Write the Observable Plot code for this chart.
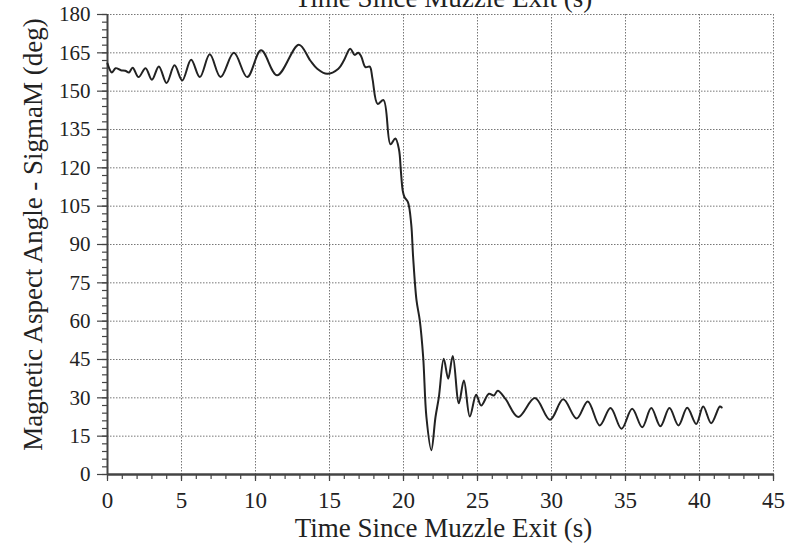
<!DOCTYPE html>
<html><head><meta charset="utf-8">
<script src="https://cdn.jsdelivr.net/npm/d3@7"></script>
<script src="https://cdn.jsdelivr.net/npm/@observablehq/plot@0.6"></script>
<style>body{margin:0;background:#fff;} svg{display:block}</style>
</head><body><div id="chart"></div>
<script>
const time = [0.0,0.3,0.55,0.9,1.2,1.45,1.7,2.1,2.57,3.0,3.47,3.99,4.53,5.05,5.65,6.24,6.91,7.64,8.54,9.44,10.38,11.46,12.93,13.7,14.17,14.84,15.6,15.97,16.4,16.7,16.95,17.15,17.43,17.72,17.9,18.25,18.65,19.12,19.45,19.7,19.82,19.95,20.07,20.3,20.52,20.65,20.88,21.1,21.33,21.55,21.88,22.16,22.39,22.72,23.02,23.33,23.74,24.08,24.48,24.91,25.25,25.77,26.1,26.37,26.89,27.75,28.88,29.9,30.79,31.7,32.45,33.26,33.99,34.73,35.45,36.13,36.74,37.36,37.97,38.58,39.17,39.78,40.25,40.79,41.37,41.5];
const angle = [160.8,157.3,159,158.2,158,157.3,159.2,155.5,159,154.5,159.7,153.2,160.1,154.2,162.3,155.5,164.4,155.5,165,155.5,166,156.2,168.2,162,158.8,156.8,158.8,162,166.6,164.2,165,163.5,159.4,159.6,155,145,146.5,129.2,131.5,127,119,111,108.5,106.6,98.1,85.1,68.1,60.3,45.9,22.4,9.5,22.4,30.3,45.3,37.5,46.4,27.9,36.8,22.7,31.2,27,31.6,30.9,32.8,29.6,22.5,29.9,21.4,29.4,21.9,28.6,19.2,26,17.9,25.7,18.5,26,18.9,26,19.2,26.1,19.8,26.6,20.1,26.6,26.2];
const xTicks = [0,5,10,15,20,25,30,35,40,45];
const yTicks = [0,15,30,45,60,75,90,105,120,135,150,165,180];
const xMinor = d3.range(0, 46, 1);
const yMinor = d3.range(0, 181, 3);
const xTitle = "Time Since Muzzle Exit (s)";
const yTitle = "Magnetic Aspect Angle - SigmaM (deg)";

const data = time.map((t, i) => ({t, v: angle[i]}));
const grid = {stroke: "#777", strokeOpacity: 1, strokeWidth: 1, strokeDasharray: "1.5,1.5"};

const chart = Plot.plot({
  width: 797, height: 549,
  marginLeft: 107, marginRight: 24, marginTop: 14, marginBottom: 75,
  x: {domain: [0, 45]},
  y: {domain: [0, 180]},
  style: {fontFamily: "Liberation Serif", background: "white", color: "#222"},
  marks: [
    Plot.gridX(xTicks.slice(1), grid),
    Plot.gridY(yTicks.slice(1), grid),
    Plot.axisX(xMinor, {tickSize: 5, text: null, label: null, stroke: "#444", strokeWidth: 1.2}),
    Plot.axisX(xTicks, {tickSize: 7, tickPadding: 10, fontSize: 23, label: null, stroke: "#444", strokeWidth: 1.2}),
    Plot.axisY(yMinor, {tickSize: 5, text: null, label: null, stroke: "#444", strokeWidth: 1.2}),
    Plot.axisY(yTicks, {tickSize: 10, tickPadding: 7, fontSize: 21, label: null, stroke: "#444", strokeWidth: 1.2}),
    Plot.ruleX([0], {stroke: "#444", strokeWidth: 2}),
    Plot.ruleY([0], {stroke: "#444", strokeWidth: 2.5}),
    Plot.line(data, {x: "t", y: "v", curve: "catmull-rom", stroke: "#222", strokeWidth: 2}),
    Plot.text([xTitle], {frameAnchor: "bottom", dy: 54, dx: 3, lineAnchor: "middle", textAnchor: "middle", fontSize: 27, fill: "#222"}),
    Plot.text([xTitle], {frameAnchor: "top", dy: -16, dx: 3, lineAnchor: "middle", textAnchor: "middle", fontSize: 27, fill: "#222"}),
    Plot.text([yTitle], {frameAnchor: "left", dx: -74, dy: -10, rotate: -90, lineAnchor: "middle", textAnchor: "middle", fontSize: 27, fill: "#222"})
  ]
});
document.getElementById("chart").appendChild(chart);
</script>
</body></html>
